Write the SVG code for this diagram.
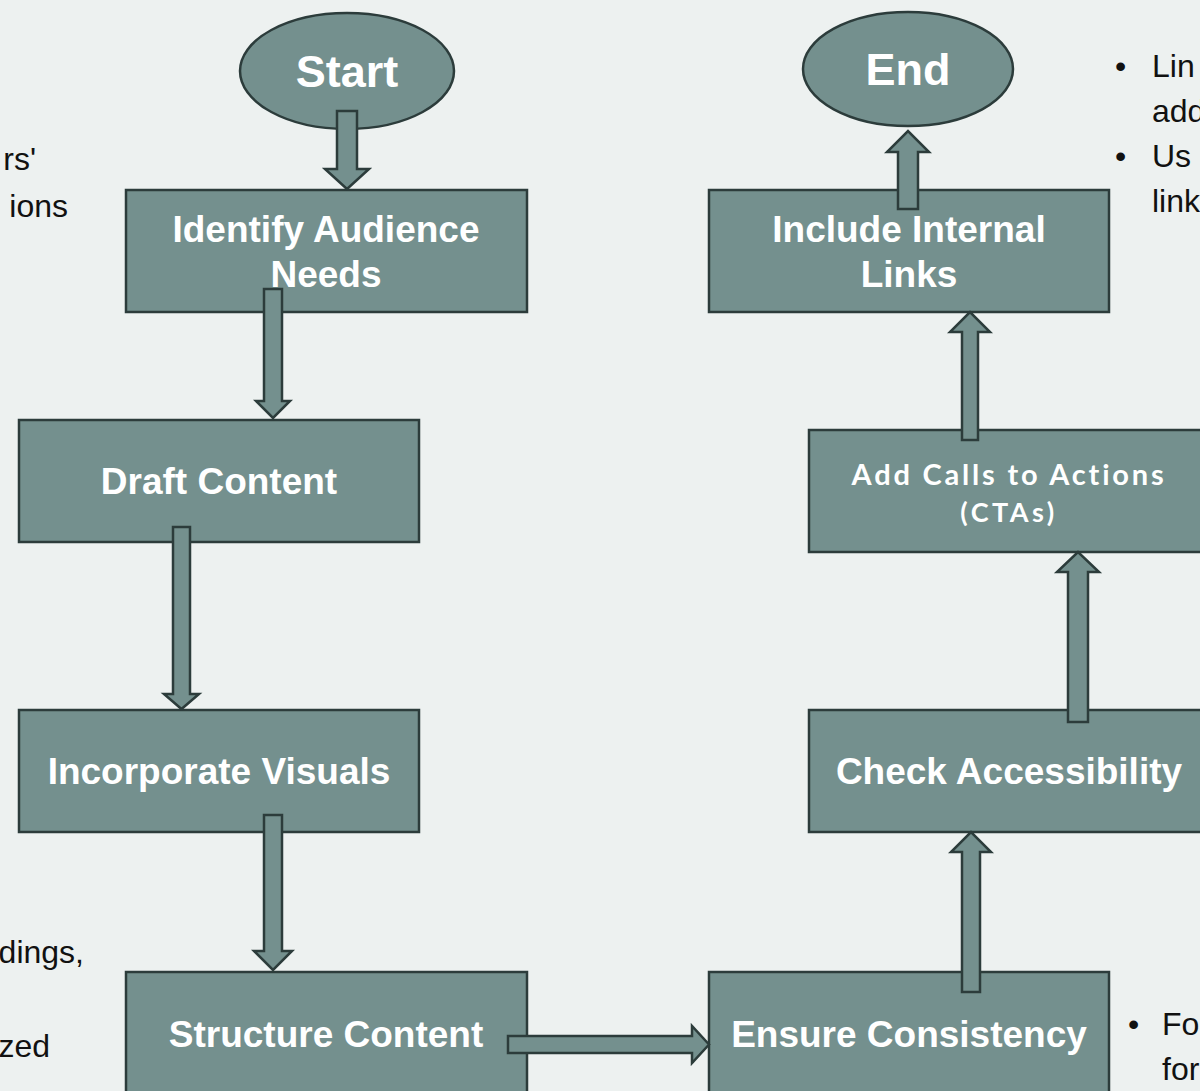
<svg xmlns="http://www.w3.org/2000/svg" width="1200" height="1091" viewBox="0 0 1200 1091">
<style>
.node{fill:#74908e;stroke:#2c3c3b;stroke-width:2.5}
.lbl{font-family:"Liberation Sans",Arial,sans-serif;font-weight:bold;fill:#ffffff;font-size:37px;text-anchor:middle}
.big{font-size:45px}
.cta{font-family:Lato,"Liberation Sans",sans-serif;font-weight:bold;fill:#ffffff;text-anchor:middle}
.arr{fill:#74908e;stroke:#2c3c3b;stroke-width:2.5;stroke-linejoin:miter}
.side{font-family:"Liberation Sans",Arial,sans-serif;font-size:32px;fill:#111111}
</style>
<rect x="0" y="0" width="1200" height="1091" fill="#edf1f0"/>
<g id="side-notes">
<text class="side" x="36" y="170" text-anchor="end">rs'</text>
<text class="side" x="68" y="217" text-anchor="end">ions</text>
<text class="side" x="84" y="963" text-anchor="end">dings,</text>
<text class="side" x="50" y="1057" text-anchor="end">zed</text>
<text class="side" x="1115" y="77">•</text>
<text class="side" x="1152" y="77">Lin</text>
<text class="side" x="1152" y="122">add</text>
<text class="side" x="1115" y="167">•</text>
<text class="side" x="1152" y="167">Us</text>
<text class="side" x="1152" y="212">link</text>
<text class="side" x="1128" y="1035">•</text>
<text class="side" x="1162" y="1035">Fo</text>
<text class="side" x="1162" y="1080">for</text>
</g>
<g id="start">
<ellipse class="node" cx="347" cy="71" rx="107" ry="58"/>
<text class="lbl big" x="347" y="87">Start</text>
</g>
<g id="end">
<ellipse class="node" cx="908" cy="69" rx="105" ry="57"/>
<text class="lbl big" x="908" y="85">End</text>
</g>
<g id="identify">
<rect class="node" x="126" y="190" width="401" height="122"/>
<text class="lbl" x="326" y="242">Identify Audience</text>
<text class="lbl" x="326" y="287">Needs</text>
</g>
<g id="draft">
<rect class="node" x="19" y="420" width="400" height="122"/>
<text class="lbl" x="219" y="494">Draft Content</text>
</g>
<g id="visuals">
<rect class="node" x="19" y="710" width="400" height="122"/>
<text class="lbl" x="219" y="784">Incorporate Visuals</text>
</g>
<g id="structure">
<rect class="node" x="126" y="972" width="401" height="125"/>
<text class="lbl" x="326" y="1047">Structure Content</text>
</g>
<g id="consistency">
<rect class="node" x="709" y="972" width="400" height="125"/>
<text class="lbl" x="909" y="1047">Ensure Consistency</text>
</g>
<g id="accessibility">
<rect class="node" x="809" y="710" width="400" height="122"/>
<text class="lbl" x="1009" y="784">Check Accessibility</text>
</g>
<g id="ctas">
<rect class="node" x="809" y="430" width="400" height="122"/>
<text class="cta" x="1009" y="485" font-size="29" letter-spacing="2.8">Add Calls to Actions</text>
<text class="cta" x="1009" y="522" font-size="27" letter-spacing="3.5">(CTAs)</text>
</g>
<g id="links">
<rect class="node" x="709" y="190" width="400" height="122"/>
<text class="lbl" x="909" y="242">Include Internal</text>
<text class="lbl" x="909" y="287">Links</text>
</g>
<g id="connectors">
<polygon class="arr" points="337,111 357,111 357,169 369,169 347,189 325,169 337,169"/>
<polygon class="arr" points="264,289 282,289 282,401 290,401 273,418 256,401 264,401"/>
<polygon class="arr" points="173,527 190,527 190,694 199,694 181.5,709 164,694 173,694"/>
<polygon class="arr" points="264,815 282,815 282,951 292,951 273,970 254,951 264,951"/>
<polygon class="arr" points="508,1036 692,1036 692,1026 709,1044.5 692,1063 692,1053 508,1053"/>
<polygon class="arr" points="962,992 980,992 980,852 991,852 971,832 951,852 962,852"/>
<polygon class="arr" points="1068,722 1088,722 1088,572 1099,572 1078,552 1057,572 1068,572"/>
<polygon class="arr" points="962,440 978,440 978,332 990,332 970,312 950,332 962,332"/>
<polygon class="arr" points="898,209 918,209 918,152 929,152 908,131 887,152 898,152"/>
</g>
</svg>
